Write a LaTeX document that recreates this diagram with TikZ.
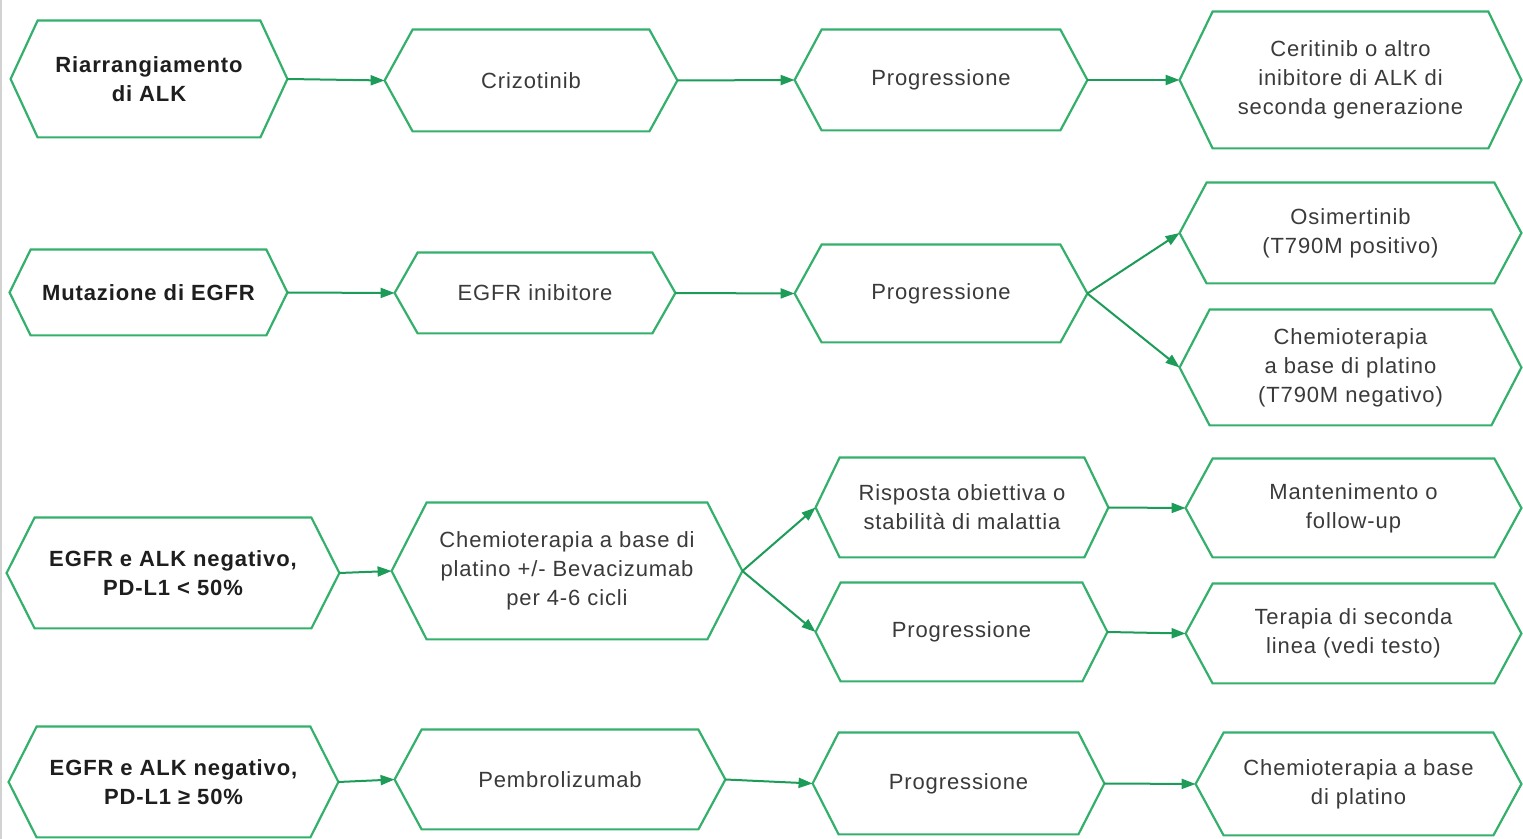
\documentclass[tikz,border=0pt]{standalone}
\usepackage{fontspec}
\setmainfont{Liberation Sans}[LetterSpace=4]
\usetikzlibrary{arrows.meta}
\definecolor{boxgreen}{RGB}{52,176,108}
\definecolor{arrgreen}{RGB}{28,156,88}
\definecolor{txtgray}{RGB}{58,58,58}
\definecolor{txtdark}{RGB}{30,30,30}
\newcommand{\hexnode}[7]{%
  \node[hexn, minimum width={(#3-#2)*0.5pt}, minimum height={(#5-#4)*0.5pt}] (#1) at ({(#2+#3)/2},{(#4+#5)/2}) {#7};
  \draw[hexline] (#1.west) -- ([xshift=#6*0.5pt]#1.north west) -- ([xshift=-#6*0.5pt]#1.north east) -- (#1.east) -- ([xshift=-#6*0.5pt]#1.south east) -- ([xshift=#6*0.5pt]#1.south west) -- cycle;}
\newcommand{\bt}[1]{\textcolor{txtdark}{\bfseries #1}}
\begin{document}
\begin{tikzpicture}[x=0.5pt, y=-0.5pt,
  hexn/.style={rectangle, inner sep=0pt, align=center, text=txtgray, font=\fontsize{11}{14.5}\selectfont},
  hexline/.style={draw=boxgreen, line width=1.1pt, line join=miter},
  conn/.style={draw=arrgreen, line width=1pt, -{Triangle[length=7pt,width=5pt]}}]
\useasboundingbox (0,0) rectangle (1523,839);
\fill[white] (0,0) rectangle (1523,839);
\draw[gray!35, line width=1pt] (1,0) -- (1,839);
% row 1
\hexnode{A1}{11}{287}{21}{137}{27}{\bt{Riarrangiamento}\\\bt{di ALK}}
\hexnode{A2}{385}{677}{30}{131}{28}{Crizotinib}
\hexnode{A3}{795}{1087}{30}{130}{27}{Progressione}
\hexnode{A4}{1180}{1521}{12}{148}{33}{Ceritinib o altro\\inibitore di ALK di\\seconda generazione}
% row 2
\hexnode{B1}{10}{287}{250}{335}{21}{\bt{Mutazione di EGFR}}
\hexnode{B2}{395}{675}{253}{333}{23}{EGFR inibitore}
\hexnode{B3}{795}{1087}{245}{342}{27}{Progressione}
\hexnode{B4a}{1180}{1521}{183}{283}{27}{Osimertinib\\(T790M positivo)}
\hexnode{B4b}{1180}{1521}{310}{425}{30}{Chemioterapia\\a base di platino\\(T790M negativo)}
% row 3
\hexnode{C1}{7}{339}{518}{628}{28}{\bt{EGFR e ALK negativo,}\\\bt{PD-L1 < 50\%}}
\hexnode{C2}{392}{742}{503}{639}{35}{Chemioterapia a base di\\platino +/- Bevacizumab\\per 4-6 cicli}
\hexnode{C3a}{816}{1108}{458}{557}{24}{Risposta obiettiva o\\stabilità di malattia}
\hexnode{C3b}{816}{1107}{583}{681}{25}{Progressione}
\hexnode{C4a}{1186}{1521}{459}{557}{27}{Mantenimento o\\follow-up}
\hexnode{C4b}{1186}{1521}{584}{683}{27}{Terapia di seconda\\linea (vedi testo)}
% row 4
\hexnode{D1}{9}{338}{727}{837}{28}{\bt{EGFR e ALK negativo,}\\\bt{PD-L1 ≥ 50\%}}
\hexnode{D2}{395}{725}{730}{829}{27}{Pembrolizumab}
\hexnode{D3}{813}{1104}{733}{834}{26}{Progressione}
\hexnode{D4}{1196}{1521}{733}{835}{28}{Chemioterapia a base\\di platino}
% connectors
\draw[conn] (A1.east) -- (A2.west);
\draw[conn] (A2.east) -- (A3.west);
\draw[conn] (A3.east) -- (A4.west);
\draw[conn] (B1.east) -- (B2.west);
\draw[conn] (B2.east) -- (B3.west);
\draw[conn] (B3.east) -- (B4a.west);
\draw[conn] (B3.east) -- (B4b.west);
\draw[conn] (C1.east) -- (C2.west);
\draw[conn] (C2.east) -- (C3a.west);
\draw[conn] (C2.east) -- (C3b.west);
\draw[conn] (C3a.east) -- (C4a.west);
\draw[conn] (C3b.east) -- (C4b.west);
\draw[conn] (D1.east) -- (D2.west);
\draw[conn] (D2.east) -- (D3.west);
\draw[conn] (D3.east) -- (D4.west);
\end{tikzpicture}
\end{document}
